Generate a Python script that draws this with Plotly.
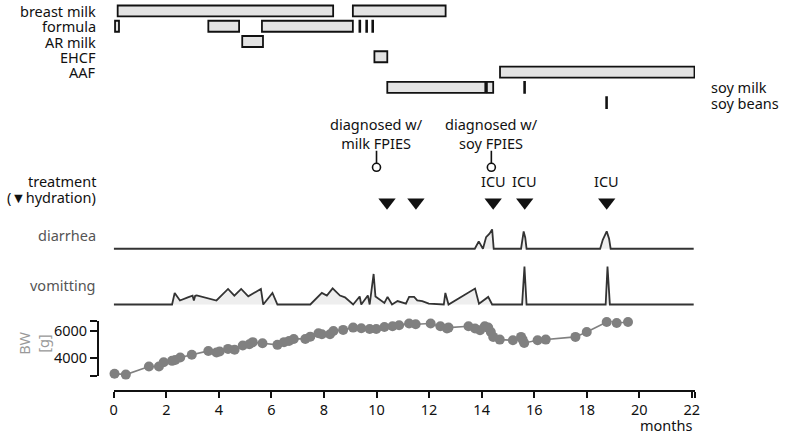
import plotly.graph_objects as go

# ---------------- data ----------------
feed_rows = ["breast milk", "formula", "AR milk", "EHCF", "AAF", "soy milk", "soy beans"]
# feeding periods: (row index, start month, end month)
feed_row = [0, 0, 1, 1, 1, 1, 1, 1, 2, 3, 4, 5, 5, 5, 6]
feed_start = [0.15, 9.10, 0.05, 3.60, 5.64, 9.35, 9.61, 9.84, 4.89, 9.92, 14.70, 10.41, 14.20, 15.62, 18.74]
feed_end = [8.35, 12.63, 0.20, 4.77, 9.10, 9.38, 9.64, 9.87, 5.68, 10.41, 22.10, 14.14, 14.44, 15.65, 18.77]

diag_month = [10.0, 14.37]
diag_text = ["diagnosed w/<br>milk FPIES", "diagnosed w/<br>soy FPIES"]
icu_month = [14.44, 15.64, 18.76]
hydration_month = [10.4, 11.5, 14.44, 15.64, 18.76]

diarrhea_m = [0, 13.74, 13.89, 14.05, 14.17, 14.30, 14.40, 14.46, 15.50, 15.55, 15.60, 15.66, 15.71,
              18.51, 18.61, 18.76, 18.85, 18.91, 22.07]
diarrhea_v = [0, 0, 0.37, 0, 0.58, 0.75, 0.97, 0, 0, 0.55, 0.87, 0.55, 0,
              0, 0.45, 0.87, 0.5, 0, 0]

vomit_m = [0, 2.22, 2.32, 2.52, 2.82, 3.00, 3.05, 3.10, 3.16, 3.91, 4.35, 4.59, 4.85, 5.12, 5.60, 5.69,
           6.04, 6.23, 7.48, 7.92, 8.11, 8.33, 8.61, 8.80, 9.11, 9.36, 9.42, 9.67, 9.74, 9.89, 9.96,
           10.30, 10.42, 10.59, 10.80, 11.12, 11.24, 11.43, 11.55, 11.74, 11.99, 12.56, 12.62, 12.74,
           13.75, 13.90, 14.25, 14.40, 15.54, 15.63, 15.71, 18.72, 18.79, 18.88, 22.07]
vomit_v = [0, 0, 0.58, 0.20, 0.36, 0.44, 0.20, 0.44, 0.46, 0.20, 0.78, 0.44, 0.78, 0.41, 0.78, 0,
           0.58, 0, 0, 0.58, 0.45, 0.81, 0.45, 0.36, 0, 0.40, 0, 0.45, 0, 1.53, 0.40,
           0.08, 0.38, 0, 0.17, 0.04, 0.38, 0.38, 0.21, 0.17, 0.04, 0, 0.58, 0,
           0.80, 0.04, 0.38, 0, 0, 1.90, 0, 0, 1.90, 0, 0]

bw_m = [0.03, 0.46, 1.34, 1.72, 1.90, 2.22, 2.34, 2.53, 2.97, 3.60, 3.91, 4.03, 4.35, 4.60, 4.91, 5.16,
        5.29, 5.66, 6.23, 6.48, 6.67, 6.85, 7.29, 7.48, 7.79, 7.92, 8.23, 8.36, 8.73, 9.11, 9.42, 9.74,
        9.99, 10.30, 10.61, 10.86, 11.24, 11.49, 12.06, 12.43, 12.68, 12.74, 13.50, 13.75, 13.94, 14.12,
        14.25, 14.35, 14.44, 14.69, 15.19, 15.50, 15.56, 15.62, 16.13, 16.44, 17.57, 18.00, 18.76,
        18.95, 19.14, 19.57]
bw_g = [2850, 2780, 3380, 3380, 3700, 3800, 3870, 4050, 4250, 4540, 4420, 4500, 4690, 4620, 4940, 5040,
        5190, 5110, 4990, 5190, 5280, 5430, 5430, 5600, 5850, 5780, 5780, 6020, 6100, 6270, 6220, 6170,
        6170, 6320, 6370, 6440, 6570, 6520, 6570, 6370, 6200, 6270, 6370, 6200, 6070, 6370,
        6270, 5950, 5580, 5380, 5330, 5580, 5380, 5130, 5330, 5380, 5580, 5950, 6690,
        6760, 6610, 6690]

x_ticks = list(range(0, 23, 2))
bw_ticks = [4000, 6000]

# ---------------- layout helpers ----------------
W, H = 787, 435
def px_x(p):
    return p / W
def px_y(p):
    return 1 - p / H

FONT = "'Noto Sans', 'Open Sans', sans-serif"
FS = 14.5
XMAX = 22.12
BW_LO, BW_HI = 2667, 6741

fig = go.Figure()

# feeding bars
fig.add_trace(go.Bar(
    orientation="h", y=feed_row, base=feed_start,
    x=[e - s for s, e in zip(feed_start, feed_end)],
    width=0.72, marker=dict(color="#e3e3e3", line=dict(color="#111111", width=1.8)),
    xaxis="x", yaxis="y", hoverinfo="skip", showlegend=False))

# events: stems, circles, hydration triangles
for m in diag_month:
    fig.add_trace(go.Scatter(x=[m, m], y=[0.65, 0.52], mode="lines",
                             line=dict(color="#111", width=1.6),
                             xaxis="x", yaxis="y2", showlegend=False, hoverinfo="skip"))
fig.add_trace(go.Scatter(x=diag_month, y=[0.483] * len(diag_month), mode="markers",
                         marker=dict(symbol="circle", size=8, color="white",
                                     line=dict(color="#111", width=1.6)),
                         xaxis="x", yaxis="y2", showlegend=False, hoverinfo="skip", cliponaxis=False))
fig.add_trace(go.Scatter(x=hydration_month, y=[0.133] * len(hydration_month), mode="markers",
                         marker=dict(symbol="triangle-down", size=15, color="#111", line=dict(width=0)),
                         xaxis="x", yaxis="y2", showlegend=False, hoverinfo="skip", cliponaxis=False))

# diarrhea / vomiting
fig.add_trace(go.Scatter(x=diarrhea_m, y=diarrhea_v, mode="lines", fill="tozeroy",
                         fillcolor="#eeeeee", line=dict(color="#333333", width=1.8),
                         xaxis="x", yaxis="y3", showlegend=False, hoverinfo="skip"))
fig.add_trace(go.Scatter(x=vomit_m, y=vomit_v, mode="lines", fill="tozeroy",
                         fillcolor="#eeeeee", line=dict(color="#333333", width=1.8),
                         xaxis="x", yaxis="y4", showlegend=False, hoverinfo="skip"))

# body weight
fig.add_trace(go.Scatter(x=bw_m, y=bw_g, mode="lines+markers",
                         line=dict(color="#808080", width=1.6),
                         marker=dict(color="#808080", size=10),
                         xaxis="x", yaxis="y5", showlegend=False, hoverinfo="skip", cliponaxis=False))

# ---------------- annotations ----------------
ann = []
for i, name in enumerate(feed_rows):
    if i < 5:
        ann.append(dict(x=px_x(95), xref="paper", y=i, yref="y", text=name,
                        xanchor="right", yanchor="middle", showarrow=False))
    else:
        ann.append(dict(x=px_x(713), xref="paper", y=i, yref="y", text=name,
                        xanchor="left", yanchor="middle", showarrow=False))
for m, t in zip(diag_month, diag_text):
    ann.append(dict(x=m, xref="x", y=px_y(133), yref="paper", text=t,
                    xanchor="center", yanchor="middle", showarrow=False))
for m in icu_month:
    ann.append(dict(x=m, xref="x", y=px_y(180), yref="paper", text="ICU",
                    xanchor="center", yanchor="middle", showarrow=False))
ann.append(dict(x=px_x(95), xref="paper", y=px_y(180), yref="paper", text="treatment",
                xanchor="right", yanchor="middle", showarrow=False))
ann.append(dict(x=px_x(95), xref="paper", y=px_y(196), yref="paper", text="(▼hydration)",
                xanchor="right", yanchor="middle", showarrow=False))
ann.append(dict(x=px_x(95), xref="paper", y=px_y(235), yref="paper", text="diarrhea",
                xanchor="right", yanchor="middle", showarrow=False, font=dict(color="#555555")))
ann.append(dict(x=px_x(95), xref="paper", y=px_y(285), yref="paper", text="vomitting",
                xanchor="right", yanchor="middle", showarrow=False, font=dict(color="#555555")))
ann.append(dict(x=px_x(30), xref="paper", y=px_y(343), yref="paper", text="BW<br>[g]",
                textangle=-90, xanchor="center", yanchor="middle", showarrow=False,
                font=dict(color="#999999")))
ann.append(dict(x=px_x(698), xref="paper", y=px_y(425), yref="paper", text="months",
                xanchor="right", yanchor="middle", showarrow=False))

fig.update_layout(
    width=W, height=H,
    margin=dict(l=0, r=0, t=0, b=0),
    paper_bgcolor="white", plot_bgcolor="rgba(0,0,0,0)",
    font=dict(family=FONT, size=FS, color="#111111"),
    barmode="overlay",
    annotations=ann,
    xaxis=dict(domain=[px_x(111), px_x(699)], range=[0, XMAX], anchor="free",
               position=px_y(391), showgrid=False, zeroline=False,
               showline=True, linecolor="#111", linewidth=1.8,
               ticks="outside", ticklen=6, tickwidth=1.6, tickcolor="#111",
               tickvals=x_ticks + [XMAX], ticktext=[str(t) for t in x_ticks] + [""],
               tickfont=dict(size=FS, color="#111")),
    yaxis=dict(domain=[px_y(109.45), px_y(2.35)], range=[6.5, -0.5], visible=False),
    yaxis2=dict(domain=[px_y(215), px_y(115)], range=[0, 1], visible=False),
    yaxis3=dict(domain=[px_y(251.3), px_y(226.3)], range=[-0.15, 1.1], visible=False),
    yaxis4=dict(domain=[px_y(307.2), px_y(263.2)], range=[-0.15, 2.05], visible=False),
    yaxis5=dict(domain=[px_y(376), px_y(321)], range=[BW_LO, BW_HI], anchor="free",
                position=px_x(95), showgrid=False, zeroline=False,
                showline=True, linecolor="#111", linewidth=1.8,
                ticks="outside", ticklen=7, tickwidth=1.6, tickcolor="#111",
                tickvals=[BW_LO] + bw_ticks + [BW_HI],
                ticktext=[""] + [str(t) for t in bw_ticks] + [""],
                tickfont=dict(size=FS, color="#111")),
)

fig.write_html("out.html")
